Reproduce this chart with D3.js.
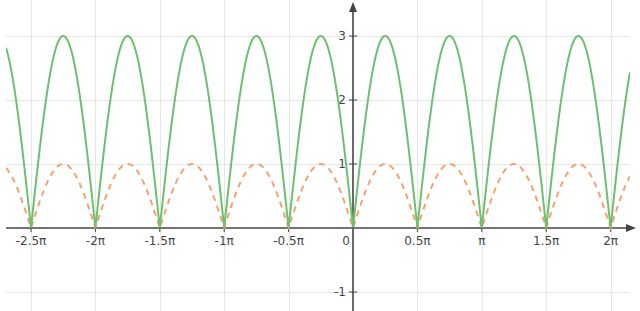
<!DOCTYPE html>
<html>
<head>
<meta charset="utf-8">
<script src="https://cdn.jsdelivr.net/npm/d3@7"></script>
<style>
  html, body { margin: 0; padding: 0; background: #fff; }
  svg { display: block; }
  .grid line { stroke: #e6e6e6; stroke-width: 1; }
  .lbl { font-family: "DejaVu Sans", Verdana, sans-serif; font-size: 12px; fill: #444; }
</style>
</head>
<body>
<div id="chart"></div>
<script>
'use strict';

// x ticks, in multiples of pi
var xTickSteps = [-2.5, -2, -1.5, -1, -0.5, 0.5, 1, 1.5, 2],
    xTickLabels = ['-2.5π', '-2π', '-1.5π', '-1π', '-0.5π', '0.5π', 'π', '1.5π', '2π'];
var yTickValues = [-1, 1, 2, 3],
    yTickLabels = ['-1', '1', '2', '3'];

// two curves: y = amp * |sin(freq * x)|
var seriesNames = ['dashed', 'solid'],
    seriesAmp = [1, 3],
    seriesFreq = [2, 2],
    seriesColor = ['#f5a26e', '#6cc070'];

var width = 640,
    height = 311,
    originX = 353,
    originY = 228,
    pxPerHalfPi = 64.4,
    pxPerUnitY = 64,
    left = 6,
    right = 630;

var kx = pxPerHalfPi / (Math.PI / 2);
var x = d3.scaleLinear()
  .domain([(left - originX) / kx, (right - originX) / kx])
  .range([left, right]);
var y = d3.scaleLinear()
  .domain([originY / pxPerUnitY, (originY - height) / pxPerUnitY])
  .range([0, height]);

var svg = d3.select('#chart').append('svg')
  .attr('width', width)
  .attr('height', height);

svg.append('defs').append('clipPath').attr('id', 'clip')
  .append('rect').attr('x', left).attr('y', 0).attr('width', right - left).attr('height', height);

// grid
var grid = svg.append('g').attr('class', 'grid');
grid.selectAll('line.v').data(xTickSteps).enter().append('line')
  .attr('class', 'v')
  .attr('x1', function (d) { return Math.round(x(d * Math.PI)) + 0.5; })
  .attr('x2', function (d) { return Math.round(x(d * Math.PI)) + 0.5; })
  .attr('y1', 0).attr('y2', height);
grid.selectAll('line.h').data(yTickValues).enter().append('line')
  .attr('class', 'h')
  .attr('x1', left).attr('x2', right)
  .attr('y1', function (d) { return Math.round(y(d)) + 0.5; })
  .attr('y2', function (d) { return Math.round(y(d)) + 0.5; });

// axes
var axisColor = '#444';
var xa = svg.append('g');
xa.append('line')
  .attr('x1', left).attr('x2', 628)
  .attr('y1', y(0)).attr('y2', y(0))
  .attr('stroke', axisColor).attr('stroke-width', 1.6);
xa.append('path')
  .attr('d', 'M' + 636 + ',' + y(0) + 'L' + 626 + ',' + (y(0) - 4) + 'L' + 626 + ',' + (y(0) + 4) + 'Z')
  .attr('fill', axisColor);
xa.selectAll('line.t').data(xTickSteps).enter().append('line')
  .attr('class', 't')
  .attr('x1', function (d) { return x(d * Math.PI); })
  .attr('x2', function (d) { return x(d * Math.PI); })
  .attr('y1', y(0) - 4).attr('y2', y(0) + 4)
  .attr('stroke', axisColor).attr('stroke-width', 1);
xa.selectAll('text').data(xTickSteps).enter().append('text')
  .attr('class', 'lbl')
  .attr('x', function (d) { return x(d * Math.PI); })
  .attr('y', y(0) + 17)
  .attr('text-anchor', 'middle')
  .text(function (d, i) { return xTickLabels[i]; });
xa.append('text')
  .attr('class', 'lbl')
  .attr('x', x(0) - 3).attr('y', y(0) + 17)
  .attr('text-anchor', 'end')
  .text('0');

var ya = svg.append('g');
ya.append('line')
  .attr('x1', x(0)).attr('x2', x(0))
  .attr('y1', 10).attr('y2', height)
  .attr('stroke', axisColor).attr('stroke-width', 1.6);
ya.append('path')
  .attr('d', 'M' + x(0) + ',' + 2 + 'L' + (x(0) - 4) + ',' + 12 + 'L' + (x(0) + 4) + ',' + 12 + 'Z')
  .attr('fill', axisColor);
ya.selectAll('line.t').data(yTickValues).enter().append('line')
  .attr('class', 't')
  .attr('x1', x(0) - 4).attr('x2', x(0) + 4)
  .attr('y1', function (d) { return y(d); })
  .attr('y2', function (d) { return y(d); })
  .attr('stroke', axisColor).attr('stroke-width', 1);
ya.selectAll('text').data(yTickValues).enter().append('text')
  .attr('class', 'lbl')
  .attr('x', x(0) - 7)
  .attr('y', function (d) { return y(d); })
  .attr('dy', '0.36em')
  .attr('text-anchor', 'end')
  .text(function (d, i) { return yTickLabels[i]; });

// curves
var line = d3.line()
  .x(function (d) { return x(d[0]); })
  .y(function (d) { return y(d[1]); });

var xs = d3.range(0, 2001).map(function (i) {
  var d = x.domain();
  return d[0] + (d[1] - d[0]) * i / 2000;
});

var curves = svg.append('g').attr('clip-path', 'url(#clip)');
seriesNames.forEach(function (name, s) {
  var pts = xs.map(function (v) {
    return [v, seriesAmp[s] * Math.abs(Math.sin(seriesFreq[s] * v))];
  });
  curves.append('path')
    .datum(pts)
    .attr('d', line)
    .attr('fill', 'none')
    .attr('stroke', seriesColor[s])
    .attr('stroke-width', 2)
    .attr('stroke-dasharray', name === 'dashed' ? '6,5' : null);
});
</script>
</body>
</html>
